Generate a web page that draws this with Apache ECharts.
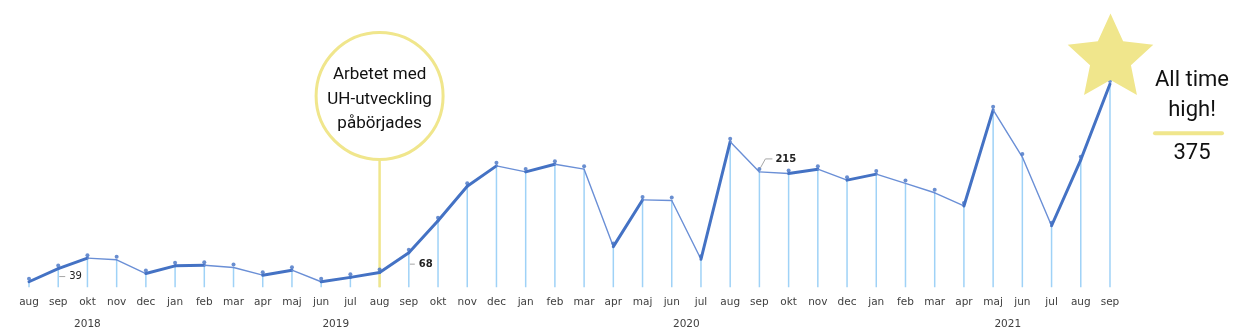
<!DOCTYPE html>
<html><head><meta charset="utf-8">
<script src="https://cdn.jsdelivr.net/npm/echarts@6/dist/echarts.min.js"></script>
<style>html,body{margin:0;padding:0;background:#fff}#c{width:1250px;height:335px}</style>
</head><body><div id="c"></div>
<script>
const months = ['aug','sep','okt','nov','dec','jan','feb','mar','apr','maj','jun','jul','aug','sep','okt','nov','dec','jan','feb','mar','apr','maj','jun','jul','aug','sep','okt','nov','dec','jan','feb','mar','apr','maj','jun','jul','aug','sep'];
const values = [15,39,58,55,30,44,45,41,27,36,15,23,32,68,126,189,226,215,229,220,79,164,163,56,270,215,212,220,200,211,194,177,153,328,242,117,237,375];
const years = ['2018','2019','2020','2021'];
const yearPos = [2, 10.5, 22.5, 33.5];
const labelledIdx = [1, 13, 25];
const startIdx = 12; // "Arbetet med UH-utveckling påbörjades"
const circleLines = ['Arbetet med', 'UH-utveckling', 'påbörjades'];
const highLines = ['All time', 'high!'];
const highValue = '375';

const YELLOW = '#F0E68C';
const BLUE = '#4472C4';

const segments = [];
for (let i = 0; i < values.length - 1; i++) segments.push([i, values[i], i + 1, values[i + 1]]);

const chart = echarts.init(document.getElementById('c'), null, {renderer: 'canvas'});
chart.setOption({
  animation: false,
  grid: {left: 14.4, right: 125.4, top: 70.3, bottom: 47.75},
  xAxis: {
    type: 'category', data: months, boundaryGap: true,
    axisLine: {show: false}, axisTick: {show: false},
    axisLabel: {margin: 10, fontFamily: 'DejaVu Sans', fontSize: 10.5, color: '#404040', interval: 0}
  },
  yAxis: {type: 'value', min: 5, max: 400, show: false, splitLine: {show: false}},
  series: [
    {type: 'bar', data: values, barWidth: 1.5, itemStyle: {color: '#9fd2f7'}, z: 1, silent: true},
    {type: 'custom', data: segments, encode: {x: [0, 2], y: [1, 3]}, z: 3, silent: true,
      renderItem: function (params, api) {
        const p1 = api.coord([api.value(0), api.value(1)]);
        const p2 = api.coord([api.value(2), api.value(3)]);
        const up = api.value(3) >= api.value(1);
        return {type: 'line', shape: {x1: p1[0], y1: p1[1], x2: p2[0], y2: p2[1]},
          style: {stroke: up ? BLUE : '#6a8fd6', lineWidth: up ? 3 : 1.4, lineCap: 'round'}};
      }},
    {type: 'scatter', data: values, symbolSize: 4, symbolOffset: [0, -3], itemStyle: {color: BLUE}, z: 4, silent: true}
  ]
});

function px(i, v) { return chart.convertToPixel({xAxisIndex: 0, yAxisIndex: 0}, [i, v]); }
function pxFrac(f, v) {
  const a = Math.floor(f), b = Math.min(a + 1, values.length - 1);
  const pa = px(a, v), pb = px(b, v);
  return [pa[0] + (f - a) * (pb[0] - pa[0]), pa[1]];
}

const g = [];
const base = px(0, 5)[1];
years.forEach((y, k) => {
  const p = pxFrac(yearPos[k], 5);
  g.push({type: 'text', x: p[0], y: base + 37, style: {text: y, font: '10.5px "DejaVu Sans"', fill: '#404040', textAlign: 'center', textVerticalAlign: 'middle'}});
});

// data labels with leader lines
const lbl = [
  {dx: 11, dy: 8, bold: false, diag: false},
  {dx: 10, dy: 11.5, bold: true, diag: false},
  {dx: 16, dy: -13, bold: true, diag: true}
];
labelledIdx.forEach((idx, k) => {
  const p = px(idx, values[idx]);
  const L = lbl[k];
  const ty = p[1] + L.dy;
  if (L.diag) {
    g.push({type: 'polyline', shape: {points: [[p[0] + 1, p[1] - 4], [p[0] + 6, ty], [p[0] + L.dx - 3, ty]]}, style: {stroke: '#a6a6a6', lineWidth: 1, fill: null}, z: 5});
  } else {
    g.push({type: 'line', shape: {x1: p[0] + 1, y1: ty, x2: p[0] + L.dx - 4, y2: ty}, style: {stroke: '#a6a6a6', lineWidth: 1}, z: 5});
  }
  g.push({type: 'text', x: p[0] + L.dx, y: ty, z: 5, style: {text: String(values[idx]), font: (L.bold ? 'bold ' : '') + '10px "DejaVu Sans"', fill: '#222', textAlign: 'left', textVerticalAlign: 'middle'}});
});

// annotation circle
const ps = px(startIdx, values[startIdx]);
const cx = ps[0], cy = 96, r = 63.5;
g.push({type: 'line', shape: {x1: cx, y1: cy + r, x2: cx, y2: base}, style: {stroke: YELLOW, lineWidth: 2.5}, z: 2});
g.push({type: 'circle', shape: {cx: cx, cy: cy, r: r}, style: {fill: '#fff', stroke: YELLOW, lineWidth: 3}, z: 6});
circleLines.forEach((t, k) => {
  g.push({type: 'text', x: cx, y: 75 + k * 24.5, z: 7, style: {text: t, font: '17px Roboto', fill: '#111', textAlign: 'center', textVerticalAlign: 'middle'}});
});

// star at all time high
const pe = px(values.length - 1, values[values.length - 1]);
const sx = pe[0] + 0.5, sy = pe[1] - 25.5, R = 45, rin = 21.5;
const pts = [];
for (let k = 0; k < 10; k++) {
  const ang = -Math.PI / 2 + k * Math.PI / 5;
  const rr = k % 2 === 0 ? R : rin;
  pts.push([sx + rr * Math.cos(ang), sy + rr * Math.sin(ang)]);
}
g.push({type: 'polygon', shape: {points: pts}, style: {fill: YELLOW}, z: 6});
const tx = 1192;
highLines.forEach((t, k) => {
  g.push({type: 'text', x: tx, y: 80 + k * 30, z: 7, style: {text: t, font: '22px Roboto', fill: '#111', textAlign: 'center', textVerticalAlign: 'middle'}});
});
g.push({type: 'line', shape: {x1: 1155, y1: 133.3, x2: 1222, y2: 133.3}, style: {stroke: YELLOW, lineWidth: 4, lineCap: 'round'}, z: 6});
g.push({type: 'text', x: tx, y: 153, z: 7, style: {text: highValue, font: '22px Roboto', fill: '#111', textAlign: 'center', textVerticalAlign: 'middle'}});

chart.setOption({graphic: g});
</script></body></html>
